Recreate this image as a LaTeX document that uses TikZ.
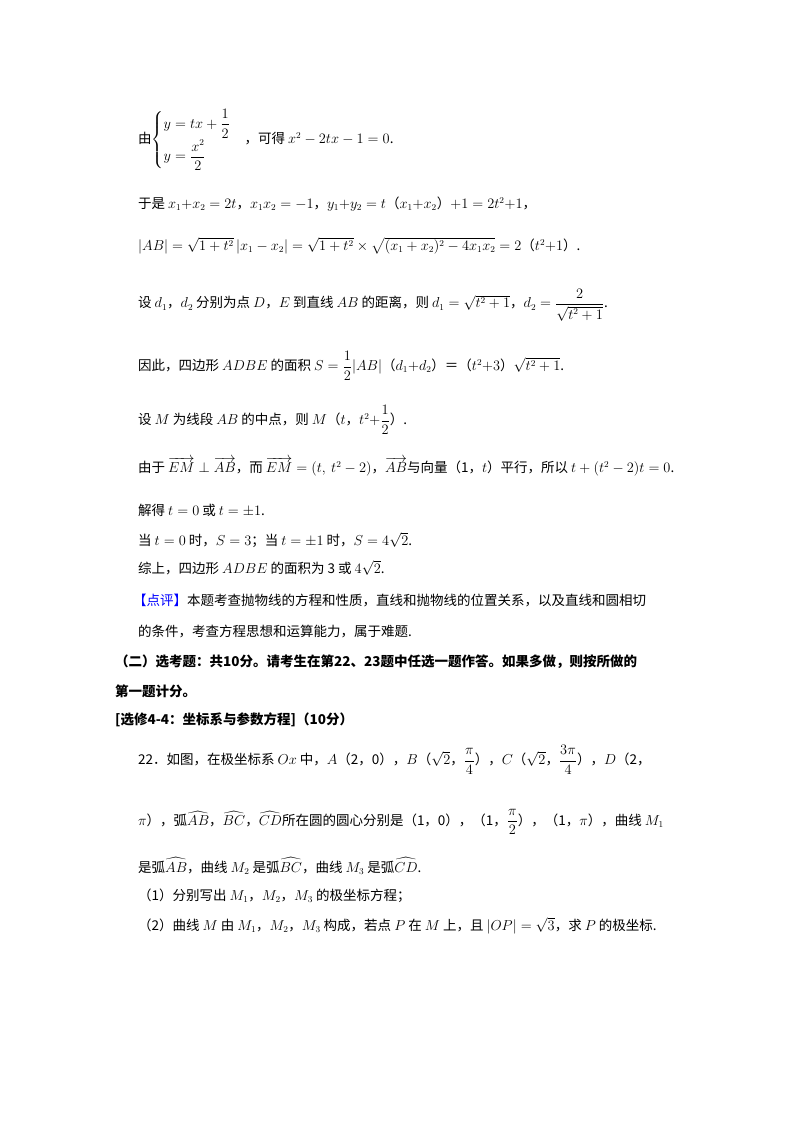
\documentclass[tikz,border=0pt]{standalone}
\usepackage{amsmath,amssymb}
\usepackage{fontspec}
\setmainfont{Noto Sans CJK SC}
\tikzset{t/.style={anchor=west,inner sep=0pt,font=\fontsize{13.5}{16}\selectfont}, b/.style={t,font=\fontsize{13.5}{16}\selectfont\bfseries}}
\begin{document}
\begin{tikzpicture}[x=1pt,y=-1pt]
\useasboundingbox (0,0) rectangle (800,1132);
\fill[white] (0,0) rectangle (800,1132);
\node[t] (l1) at (138,140) {由$\begin{cases} y=tx+\dfrac12\\[6pt] y=\dfrac{x^2}{2}\end{cases}$，可得 $x^2-2tx-1=0$.};
\node[t] (l2) at (138,204) {于是 $x_1{+}x_2=2t$，$x_1x_2=-1$，$y_1{+}y_2=t$（$x_1{+}x_2$）$+1=2t^2{+}1$，};
\node[t] (l3) at (138,246) {$|AB|=\sqrt{1+t^2}\,|x_1-x_2|=\sqrt{1+t^2}\times\sqrt{(x_1+x_2)^2-4x_1x_2}=2$（$t^2{+}1$）.};
\node[t] (l4) at (138,305) {设 $d_1$，$d_2$ 分别为点 $D$，$E$ 到直线 $AB$ 的距离，则 $d_1=\sqrt{t^2+1}$，$d_2=\dfrac{2}{\sqrt{t^2+1}}$.};
\node[t] (l5) at (138,366) {因此，四边形 $ADBE$ 的面积 $S=\dfrac12|AB|$（$d_1{+}d_2$）＝（$t^2{+}3$）$\sqrt{t^2+1}$.};
\node[t] (l6) at (138,420) {设 $M$ 为线段 $AB$ 的中点，则 $M$（$t$，$t^2{+}\dfrac12$）.};
\node[t] (l7) at (138,467) {由于 $\overrightarrow{EM}\perp\overrightarrow{AB}$，而 $\overrightarrow{EM}=(t,\ t^2-2)$，$\overrightarrow{AB}$与向量（1，$t$）平行，所以 $t+(t^2-2)t=0$.};
\node[t] (l8) at (138,510) {解得 $t=0$ 或 $t=\pm1$.};
\node[t] (l9) at (138,540) {当 $t=0$ 时，$S=3$；当 $t=\pm1$ 时，$S=4\sqrt2$.};
\node[t] (l10) at (138,568) {综上，四边形 $ADBE$ 的面积为 3 或 $4\sqrt2$.};
\node[t] (l11) at (133,600) {\textcolor{blue}{【点评】}本题考查抛物线的方程和性质，直线和抛物线的位置关系，以及直线和圆相切};
\node[t] (l12) at (138,632) {的条件，考查方程思想和运算能力，属于难题.};
\node[b] (l13) at (115,662) {（二）选考题：共10分。请考生在第22、23题中任选一题作答。如果多做，则按所做的};
\node[b] (l14) at (115,691) {第一题计分。};
\node[b] (l15) at (115,720) {[选修4-4：坐标系与参数方程]（10分）};
\node[t] (l16) at (138,760) {22．如图，在极坐标系 $Ox$ 中，$A$（2，0），$B$（$\sqrt2$，$\dfrac{\pi}{4}$），$C$（$\sqrt2$，$\dfrac{3\pi}{4}$），$D$（2，};
\node[t] (l17) at (138,822) {$\pi$），弧$\widehat{AB}$，$\widehat{BC}$，$\widehat{CD}$所在圆的圆心分别是（1，0），（1，$\dfrac{\pi}{2}$），（1，$\pi$），曲线 $M_1$};
\node[t] (l18) at (138,866) {是弧$\widehat{AB}$，曲线 $M_2$ 是弧$\widehat{BC}$，曲线 $M_3$ 是弧$\widehat{CD}$.};
\node[t] (l19) at (138,896) {（1）分别写出 $M_1$，$M_2$，$M_3$ 的极坐标方程；};
\node[t] (l20) at (138,926) {（2）曲线 $M$ 由 $M_1$，$M_2$，$M_3$ 构成，若点 $P$ 在 $M$ 上，且 $|OP|=\sqrt3$，求 $P$ 的极坐标.};
\end{tikzpicture}
\end{document}
